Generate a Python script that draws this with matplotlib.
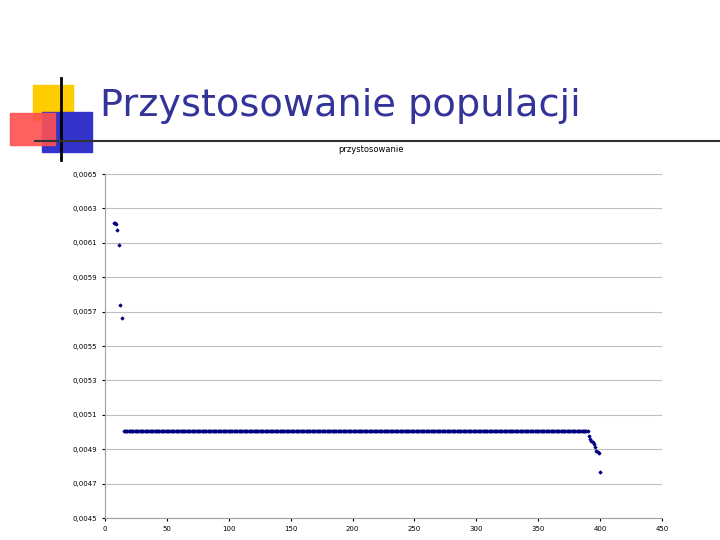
import numpy as np
import matplotlib.pyplot as plt
from matplotlib.patches import Rectangle

# data
head_x = [7, 8, 9, 10, 11, 12, 14]
head_y = [0.006215, 0.006215, 0.006212, 0.006174, 0.006087, 0.005738, 0.005663]
flat_x = list(range(15, 390))
flat_y = [0.005006] * len(flat_x)
tail_x = [390, 391, 392, 393, 394, 395, 396, 397, 398, 399, 400]
tail_y = [0.005004, 0.004975, 0.00496, 0.00495, 0.00494, 0.00493, 0.00491, 0.00489, 0.004884, 0.00488, 0.004767]

xs = head_x + flat_x + tail_x
ys = head_y + flat_y + tail_y

fig = plt.figure(figsize=(7.2, 5.4), dpi=100)

# slide decoration
deco = fig.add_axes([0, 0, 1, 1])
deco.set_xlim(0, 720)
deco.set_ylim(540, 0)
deco.axis("off")
deco.add_patch(Rectangle((33, 85), 40, 35, color="#ffcc00"))
deco.add_patch(Rectangle((42, 112), 50, 40, color="#3333cc"))
deco.add_patch(Rectangle((10, 113), 45, 32, color="#ff5050", alpha=0.9))
deco.plot([61, 61], [78, 160], color="black", lw=2)
deco.plot([35, 720], [141, 141], color="#333333", lw=1.5)
deco.text(100, 106, "Przystosowanie populacji", fontsize=27.5, color="#333399",
          va="center", ha="left")
deco.text(371, 150, "przystosowanie", fontsize=6, ha="center", va="center")

ax = fig.add_axes([105 / 720, 1 - 518 / 540, 557 / 720, 344 / 540])
ax.scatter(xs, ys, s=1.8, marker="D", color="#000080", zorder=3)
ax.set_xlim(0, 450)
ax.set_ylim(0.0045, 0.0065)
ax.set_xticks(range(0, 451, 50))
yt = np.arange(0.0045, 0.00651, 0.0002)
ax.set_yticks(yt)
ax.set_yticklabels([f"{v:.4f}".replace(".", ",") for v in yt])
ax.tick_params(labelsize=5, length=2)
ax.grid(axis="y", color="#c0c0c0", lw=0.8)
for s in ["top", "right"]:
    ax.spines[s].set_visible(False)
ax.spines["left"].set_color("#a0a0a0")
ax.spines["bottom"].set_color("#a0a0a0")

fig.savefig("out.png", dpi=100)
